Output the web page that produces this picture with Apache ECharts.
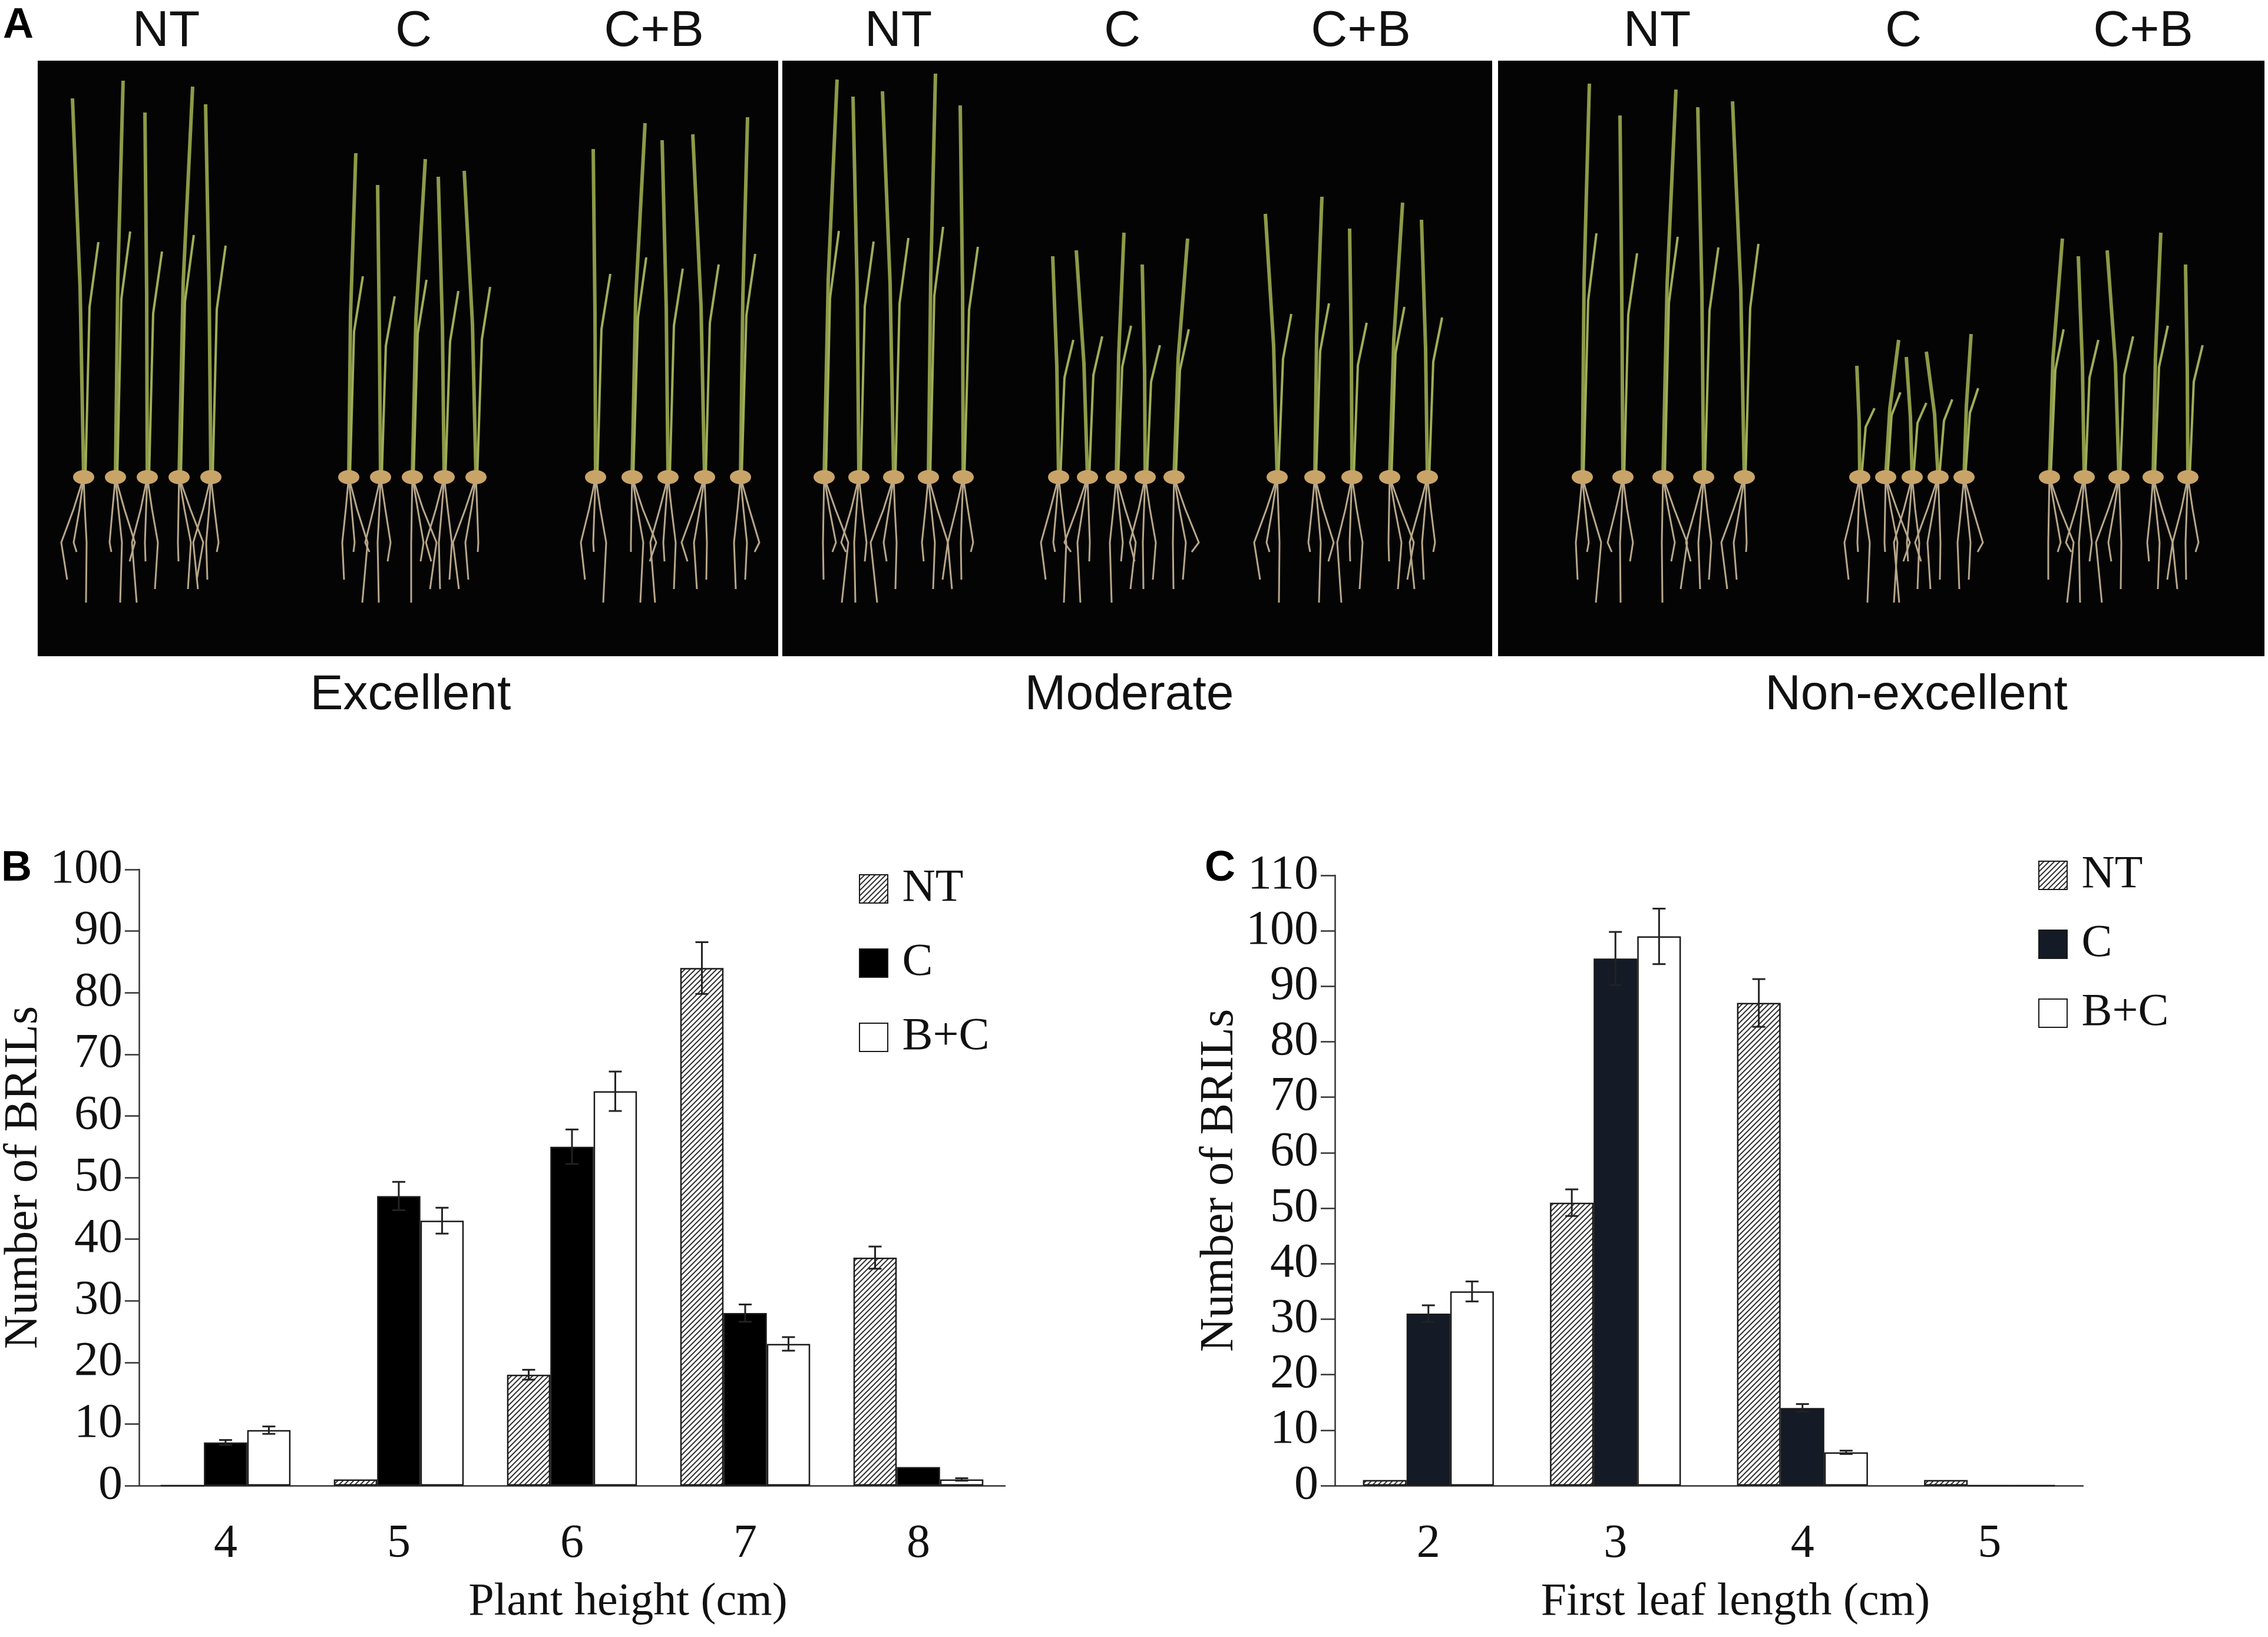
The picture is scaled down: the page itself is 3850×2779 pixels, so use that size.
<!DOCTYPE html>
<html>
<head>
<meta charset="utf-8">
<script src="https://cdn.jsdelivr.net/npm/echarts@6/dist/echarts.min.js"></script>
<style>
html, body { margin: 0; background: #fff; }
#main { width: 3850px; height: 2779px; }
</style>
</head>
<body>
<div id="main"></div>
<script>
// panel B - plant height
var heightCats = ['4', '5', '6', '7', '8'];
var heightNT = [0, 1, 18, 84, 37];
var heightC = [7, 47, 55, 28, 3];
var heightBC = [9, 43, 64, 23, 1];
var heightNTErr = [0, 0, 0.8, 4.2, 1.8];
var heightCErr = [0.4, 2.3, 2.8, 1.4, 0];
var heightBCErr = [0.6, 2.1, 3.2, 1.1, 0.2];

// panel C - first leaf length
var leafCats = ['2', '3', '4', '5'];
var leafNT = [1, 51, 87, 1];
var leafC = [31, 95, 14, 0];
var leafBC = [35, 99, 6, 0];
var leafNTErr = [0, 2.4, 4.3, 0];
var leafCErr = [1.5, 4.8, 0.7, 0];
var leafBCErr = [1.8, 5, 0.3, 0];

// panel A labels
var treatLabels = ['NT', 'C', 'C+B'];
var groupLabels = ['Excellent', 'Moderate', 'Non-excellent'];

var serif = '"Liberation Serif", "Times New Roman", serif';
var sans = '"Liberation Sans", Arial, sans-serif';
var S = 2.455; // display -> page px
function px(v) { return Math.round(v * S); }

// hatch fill for NT bars
function hatch() {
    var c = document.createElement('canvas');
    c.width = 9; c.height = 9;
    var g = c.getContext('2d');
    g.fillStyle = '#fff';
    g.fillRect(0, 0, 9, 9);
    g.strokeStyle = '#333';
    g.lineWidth = 2;
    g.beginPath();
    g.moveTo(-1, 10); g.lineTo(10, -1);
    g.moveTo(-2, 2); g.lineTo(2, -2);
    g.moveTo(7, 11); g.lineTo(11, 7);
    g.stroke();
    return c;
}
var hatchFill = { image: hatch(), repeat: 'repeat' };

// error bar rows: [cat, value, err, seriesPos]
function errRows(lists) {
    var rows = [];
    lists.forEach(function (pair, s) {
        pair[0].forEach(function (v, i) {
            rows.push([i, v, pair[1][i], s]);
        });
    });
    return rows;
}

function errorBars(gap) {
    return function (params, api) {
        var val = api.value(1), err = api.value(2), s = api.value(3);
        if (!err) return;
        var band = api.size([1, 0])[0];
        var barW = band * (1 - gap) / 3;
        var cx = api.coord([api.value(0), val])[0] + (s - 1) * barW;
        var hi = api.coord([api.value(0), val + err])[1];
        var lo = api.coord([api.value(0), val - err])[1];
        var cap = 11;
        var st = { stroke: '#222', lineWidth: 3 };
        return {
            type: 'group',
            children: [
                { type: 'line', shape: { x1: cx, y1: hi, x2: cx, y2: lo }, style: st },
                { type: 'line', shape: { x1: cx - cap, y1: hi, x2: cx + cap, y2: hi }, style: st },
                { type: 'line', shape: { x1: cx - cap, y1: lo, x2: cx + cap, y2: lo }, style: st }
            ]
        };
    };
}

// photo panel (seedlings drawn as simple strokes)
var photoGroups = [
    { cx: 102, top: 60, w: 22 }, { cx: 285, top: 110, w: 22 }, { cx: 462, top: 85, w: 25 },
    { cx: 618, top: 55, w: 24 }, { cx: 772, top: 165, w: 20 }, { cx: 935, top: 140, w: 26 },
    { cx: 1150, top: 62, w: 28 }, { cx: 1322, top: 235, w: 18 }, { cx: 1465, top: 165, w: 24 }
];
var wobble = [8, -4, 18, 0, 12];
var lean = [-8, 5, -2, 9, -4];

var graphics = [];
[[26, 538], [541, 1032], [1036, 1566]].forEach(function (p) {
    graphics.push({
        type: 'rect', shape: { x: px(p[0]), y: px(42), width: px(p[1] - p[0]), height: px(454 - 42) },
        style: { fill: '#040404' }, z: 1
    });
});
photoGroups.forEach(function (g, gi) {
    var seedY = 330;
    for (var k = 0; k < 5; k++) {
        var x = g.cx + (k - 2) * g.w;
        var top = g.top + wobble[(k + gi) % 5];
        var ln = lean[(k + gi) % 5];
        graphics.push({
            type: 'polyline', z: 3,
            shape: { points: [[px(x), px(seedY)], [px(x + ln * 0.3), px((seedY + top) / 2)], [px(x + ln), px(top)]] },
            style: { stroke: '#8c9b48', lineWidth: 6, fill: null }
        });
        graphics.push({
            type: 'polyline', z: 3,
            shape: { points: [[px(x + 1), px(seedY)], [px(x + 4), px(seedY - (seedY - top) * 0.45)], [px(x + 10), px(seedY - (seedY - top) * 0.62)]] },
            style: { stroke: '#a0ad58', lineWidth: 4, fill: null }
        });
        for (var r = 0; r < 3; r++) {
            var dx = (r - 1) * 8 + ln * 0.8;
            graphics.push({
                type: 'polyline', z: 2,
                shape: { points: [[px(x), px(seedY)], [px(x + dx * 0.5), px(seedY + 22)], [px(x + dx * 1.1), px(seedY + 45)], [px(x + dx * 0.8), px(seedY + 58 + wobble[(k + r) % 5] * 1.6)]] },
                style: { stroke: '#b8a78a', lineWidth: 3, fill: null }
            });
        }
        graphics.push({
            type: 'ellipse', z: 4,
            shape: { cx: px(x), cy: px(seedY), rx: 18, ry: 12 },
            style: { fill: '#c9a468' }
        });
    }
});
var treatX = [[115, 286, 452], [621, 776, 941], [1146, 1316, 1482]];
treatX.forEach(function (row) {
    row.forEach(function (x, i) {
        graphics.push({
            type: 'text', x: px(x), y: px(22),
            style: { text: treatLabels[i], font: '86px ' + sans, fill: '#111', align: 'center', verticalAlign: 'middle' }
        });
    });
});
[284, 781, 1325].forEach(function (x, i) {
    graphics.push({
        type: 'text', x: px(x), y: px(481),
        style: { text: groupLabels[i], font: '84px ' + sans, fill: '#111', align: 'center', verticalAlign: 'middle' }
    });
});
[['A', 2, 18], ['B', 1, 601], ['C', 833, 601]].forEach(function (t) {
    graphics.push({
        type: 'text', x: px(t[1]), y: px(t[2]),
        style: { text: t[0], font: 'bold 72px ' + sans, fill: '#000', verticalAlign: 'middle' }
    });
});

function yAxisOf(grid, max) {
    return {
        gridIndex: grid, type: 'value', min: 0, max: max, interval: 10,
        name: 'Number of BRILs', nameLocation: 'middle', nameGap: 150,
        nameTextStyle: { fontFamily: serif, fontSize: 80, color: '#111' },
        axisLine: { show: true, lineStyle: { color: '#333', width: 2.5 } },
        axisTick: { show: true, length: 24, lineStyle: { color: '#333', width: 2.5 } },
        axisLabel: { fontFamily: serif, fontSize: 82, color: '#111', margin: 28 },
        splitLine: { show: false }
    };
}
function xAxisOf(grid, cats, title, pad) {
    return {
        gridIndex: grid, type: 'category', data: cats,
        name: title, nameLocation: 'middle', nameGap: 160,
        nameTextStyle: { fontFamily: serif, fontSize: 78, color: '#111', padding: [0, 0, 0, pad] },
        axisLine: { lineStyle: { color: '#333', width: 2.5 } },
        axisTick: { length: 27, lineStyle: { color: '#333', width: 2.5 } },
        axisLabel: { fontFamily: serif, fontSize: 80, color: '#111', margin: 60 }
    };
}
function legendOf(names, left, top, gap) {
    return {
        orient: 'vertical', left: left, top: top, data: names,
        itemWidth: 48, itemHeight: 48, itemGap: gap,
        icon: 'rect', selectedMode: false,
        formatter: function (n) { return ' ' + n.trim(); },
        textStyle: { fontFamily: serif, fontSize: 78, color: '#111' }
    };
}
function bar(name, data, fill, xi, gap) {
    return {
        name: name, type: 'bar', data: data, xAxisIndex: xi, yAxisIndex: xi,
        barGap: '0%', barCategoryGap: gap,
        itemStyle: { color: fill, borderColor: '#1a1a1a', borderWidth: 2.5 }
    };
}

var myChart = echarts.init(document.getElementById('main'));
var option = {
    backgroundColor: '#fff',
    animation: false,
    graphic: graphics,
    grid: [
        { left: 233, top: 1476, width: 1473, height: 1046 },
        { left: 2266, top: 1486, width: 1270, height: 1036 }
    ],
    xAxis: [
        xAxisOf(0, heightCats, 'Plant height (cm)', 190),
        xAxisOf(1, leafCats, 'First leaf length (cm)', 90)
    ],
    yAxis: [yAxisOf(0, 100), yAxisOf(1, 110)],
    legend: [
        legendOf(['NT', 'C', 'B+C'], 1453, 1465, 48),
        legendOf(['NT ', 'C ', 'B+C '], 3455, 1442, 39)
    ],
    series: [
        bar('NT', heightNT, hatchFill, 0, '25%'),
        bar('C', heightC, '#000', 0, '25%'),
        bar('B+C', heightBC, '#fff', 0, '25%'),
        {
            type: 'custom', xAxisIndex: 0, yAxisIndex: 0, z: 5,
            renderItem: errorBars(0.25),
            data: errRows([[heightNT, heightNTErr], [heightC, heightCErr], [heightBC, heightBCErr]])
        },
        bar('NT ', leafNT, hatchFill, 1, '30%'),
        bar('C ', leafC, '#141a26', 1, '30%'),
        bar('B+C ', leafBC, '#fff', 1, '30%'),
        {
            type: 'custom', xAxisIndex: 1, yAxisIndex: 1, z: 5,
            renderItem: errorBars(0.30),
            data: errRows([[leafNT, leafNTErr], [leafC, leafCErr], [leafBC, leafBCErr]])
        }
    ]
};
myChart.setOption(option);
</script>
</body>
</html>
